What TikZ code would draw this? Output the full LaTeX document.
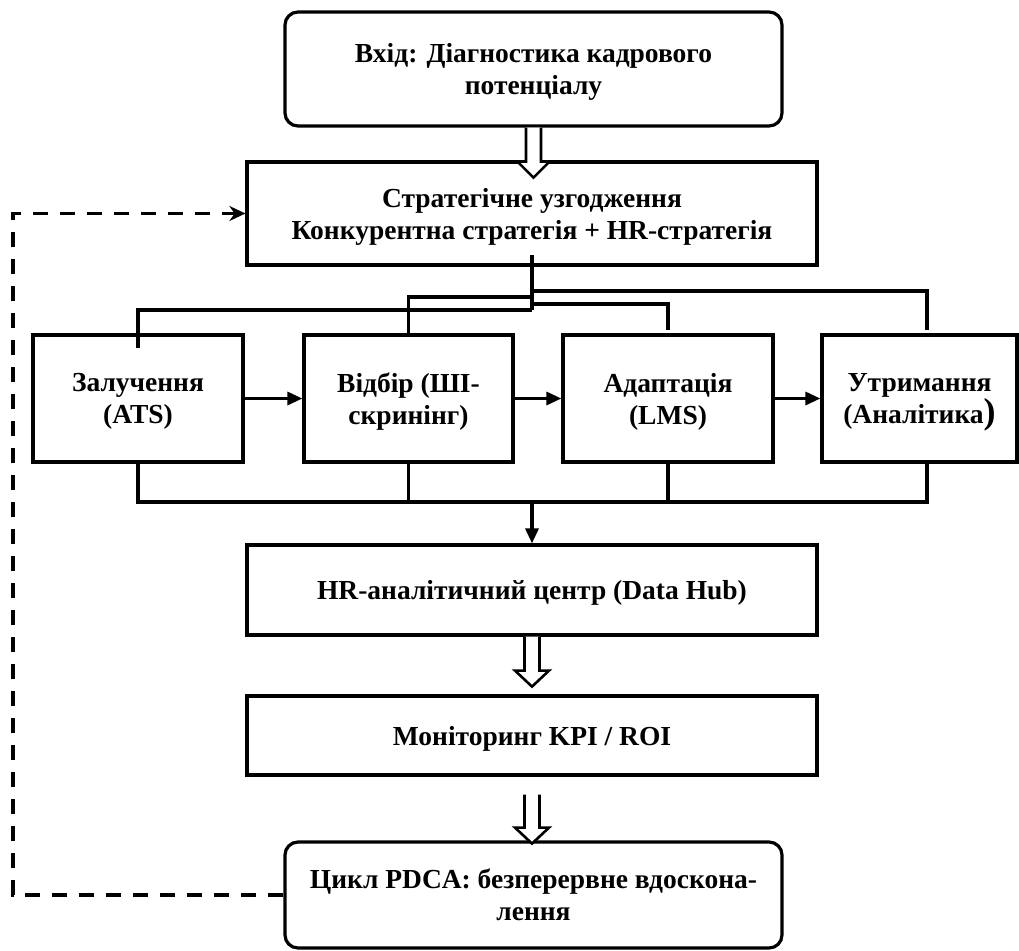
\documentclass[tikz,border=0pt]{standalone}
\usepackage{fontspec}
\setmainfont{Liberation Serif}
\usetikzlibrary{arrows.meta,calc}
\begin{document}
\begin{tikzpicture}[x=1pt,y=-1pt,
  box/.style={draw, line width=3.2pt, align=center, inner sep=0pt, text depth=0pt,
    font=\fontsize{27.5}{32}\selectfont\bfseries},
  rbox/.style={box, rounded corners=13pt},
  conn/.style={line width=3.2pt},
  arr/.style={conn, -{Triangle[length=15pt,width=13pt]}},
  fb/.style={line width=3.4pt, dash pattern=on 15pt off 12pt, -{Stealth[length=16pt,width=15pt]}},
  hollow/.style={draw, line width=2.6pt, fill=white, line join=miter}
]
\useasboundingbox (0,0) rectangle (1019,950);

% nodes
\node[rbox, minimum width=497pt, minimum height=114pt] (in) at (533.5,69)
  {Вхід: Діагностика кадрового\\потенціалу};
\node[box, minimum width=570pt, minimum height=103pt] (strat) at (532,213.5)
  {Стратегічне узгодження\\Конкурентна стратегія + HR-стратегія};
\node[box, minimum width=210pt, minimum height=127pt] (b1) at (138,398.5)
  {Залучення\\(ATS)};
\node[box, minimum width=209pt, minimum height=127pt] (b2) at (408.5,398.5)
  {Відбір (ШІ-\\скринінг)};
\node[box, minimum width=210pt, minimum height=127pt] (b3) at (668,398.5)
  {Адаптація\\(LMS)};
\node[box, minimum width=195pt, minimum height=127pt] (b4) at (919.5,398.5)
  {Утримання\\(Аналітика{\fontsize{36}{32}\selectfont )}};
\node[box, minimum width=570pt, minimum height=90pt] (hr) at (532,590)
  {HR-аналітичний центр (Data Hub)};
\node[box, minimum width=570pt, minimum height=79pt] (mon) at (532,735.5)
  {Моніторинг KPI / ROI};
\node[rbox, minimum width=497pt, minimum height=106pt] (out) at (533.5,895)
  {Цикл PDCA: безперервне вдоскона-\\лення};

% coordinates
\coordinate (t4) at (532,291);
\coordinate (t2) at (532,297);
\coordinate (t3) at (532,304);
\coordinate (t1) at (532,310);
\coordinate (b4top) at (927,330);
\coordinate (b3top) at (668,330);
\coordinate (b1top) at (138,348);
\coordinate (b4bot) at (927,462);
\coordinate (bus) at (532,502);
\coordinate (dl) at (13,0);

% hollow arrows
\draw[hollow] (in.south) ++(-7.5,0) -- ++(0,34) -- ++(-8.5,0) -- ++(16,16)
  -- ++(16,-16) -- ++(-8.5,0) -- ++(0,-34);
\draw[hollow] (hr.south) ++(-7.5,0) -- ++(0,34) -- ++(-9.5,0) -- ++(17,16)
  -- ++(17,-16) -- ++(-9.5,0) -- ++(0,-34);
\draw[hollow] (mon.south) ++(-7.5,18) -- ++(0,33) -- ++(-9.5,0) -- ++(17,16)
  -- ++(17,-16) -- ++(-9.5,0) -- ++(0,-33);

% trunk and branches
\draw[conn] (strat.south) ++(0,-12) -- (t1);
\draw[conn] (t4) -| (b4top);
\draw[conn] (t3) -| (b3top);
\draw[conn] (t2) -| (b2.north);
\draw[conn] (t1) -| (b1top);

% process arrows
\draw[arr] (b1) -- (b2);
\draw[arr] (b2) -- (b3);
\draw[arr] (b3) -- (b4);

% bottom bus
\draw[conn] (b1.south) -- (b1.south |- bus) -- (bus -| b4bot) -- (b4bot);
\draw[conn] (b2.south) -- (b2.south |- bus);
\draw[conn] (b3.south) -- (b3.south |- bus);
\draw[arr] (bus) -- (hr.north);

% feedback
\draw[fb] (out.west) -- (out.west -| dl) |- (strat.west);
\end{tikzpicture}
\end{document}
